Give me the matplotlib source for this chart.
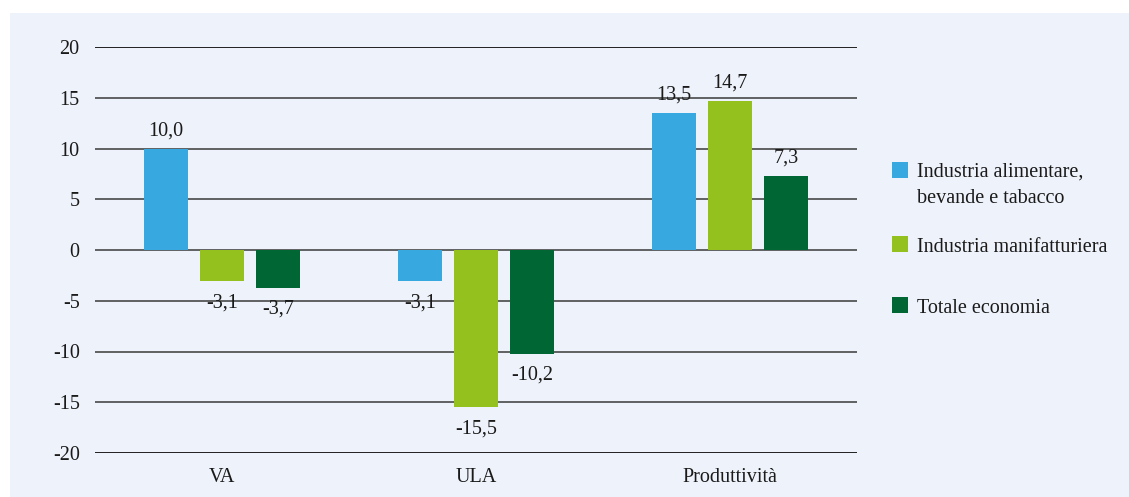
import matplotlib
matplotlib.use("Agg")
import matplotlib.pyplot as plt
from matplotlib.patches import Rectangle
import numpy as np

categories = ["VA", "ULA", "Produttività"]
series_names = ["Industria alimentare,\nbevande e tabacco", "Industria manifatturiera", "Totale economia"]
alimentare = [10.0, -3.1, 13.5]
manifatturiera = [-3.1, -15.5, 14.7]
totale = [-3.7, -10.2, 7.3]
yticks = [-20, -15, -10, -5, 0, 5, 10, 15, 20]
colors = ["#38A9E0", "#95C11F", "#006633"]

plt.rcParams['font.family'] = ['Liberation Serif', 'DejaVu Serif']
FS = 14.5
W, H = 1129, 497
fig = plt.figure(figsize=(W/100, H/100), dpi=100)
fig.patch.set_facecolor("white")
fig.add_artist(Rectangle((10/W, 0), 1 - 10/W, 1 - 13/H, transform=fig.transFigure,
                         facecolor="#EEF2FA", edgecolor="none", zorder=0))

ax = fig.add_axes([95/W, 1 - 453/H, (857-95)/W, (453-47)/H])
ax.set_facecolor("none")
for s in ax.spines.values():
    s.set_visible(False)

x = np.arange(len(categories))
bw = 44/254
off = 56/254
data = [alimentare, manifatturiera, totale]
for i, (vals, c) in enumerate(zip(data, colors)):
    xs = x + (i - 1) * off
    ax.bar(xs, vals, width=bw, color=c, zorder=3)
    for xx, v in zip(xs, vals):
        lab = f"{v:.1f}".replace(".", ",")
        if v >= 0:
            ax.annotate(lab, (xx, v), xytext=(0, 9.5), textcoords="offset points",
                        ha="center", va="baseline", fontsize=FS, color="#1a1a1a")
        else:
            ax.annotate(lab, (xx, v), xytext=(0, -8.5), textcoords="offset points",
                        ha="center", va="top", fontsize=FS, color="#1a1a1a")

for t in yticks:
    col = "#111111" if abs(t) == 20 else "#555555"
    ax.axhline(t, color=col, lw=1.3, zorder=1)

ax.set_xlim(-0.5, 2.5)
ax.set_ylim(-20, 20)
ax.set_yticks(yticks)
ax.set_yticklabels([str(t) for t in yticks])
ax.set_xticks(x)
ax.set_xticklabels(categories)
ax.tick_params(axis="both", length=0, labelsize=FS, colors="#1a1a1a")
ax.tick_params(axis="y", pad=11)
ax.tick_params(axis="x", pad=11)

# legend
sq = 16
entries = [(162, series_names[0], [177, 203]),
           (236, series_names[1], [252]),
           (297, series_names[2], [313])]
for (ytop, name, baselines), c in zip(entries, colors):
    fig.add_artist(Rectangle((892/W, 1 - (ytop+sq)/H), sq/W, sq/H, transform=fig.transFigure,
                             facecolor=c, edgecolor="none"))
    for line, b in zip(name.split("\n"), baselines):
        fig.text(917/W, 1 - b/H, line, ha="left", va="baseline", fontsize=FS,
                 color="#1a1a1a")

fig.savefig("out.png", dpi=100)
